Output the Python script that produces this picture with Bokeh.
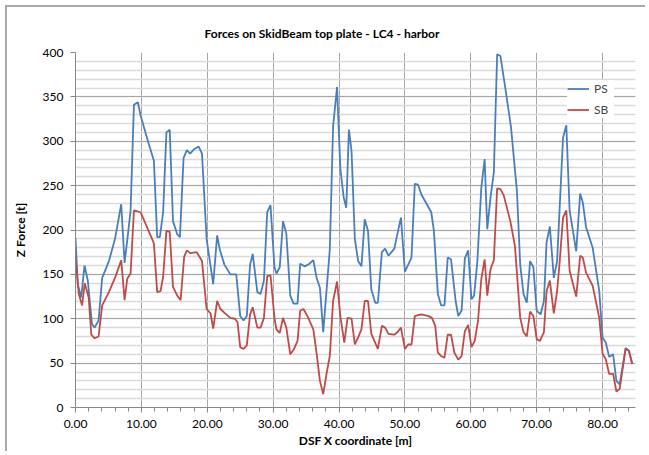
from bokeh.plotting import figure
from bokeh.models import (Range1d, SingleIntervalTicker, PrintfTickFormatter,
                          Legend, LegendItem)
from bokeh.embed import file_html
from bokeh.resources import INLINE

title_text = "Forces on SkidBeam top plate - LC4 - harbor"
x_label = "DSF X coordinate [m]"
y_label = "Z Force [t]"

ps_x = [0, 0.35, 0.86, 1.37, 1.87, 2.5, 2.9, 3.5, 4.05, 5.07, 6.0, 6.94, 7.45, 7.85, 8.36,
        8.87, 9.47, 9.88, 11.0, 11.9, 12.4, 12.8, 13.3, 13.8, 14.3, 14.8, 15.45, 15.85, 16.4,
        16.9, 17.4, 18.0, 18.7, 19.2, 19.9, 20.9, 21.5, 21.9, 22.6, 23.5, 24.4, 25.0, 25.5,
        26.0, 26.5, 26.9, 27.6, 28.1, 28.6, 29.1, 29.6, 30.2, 30.5, 31.0, 31.5, 32.0, 32.6,
        33.1, 33.7, 34.1, 34.8, 35.5, 36.1, 36.6, 37.1, 37.6, 38.6, 39.1, 39.7, 40.2, 40.7,
        41.1, 41.5, 41.9, 42.4, 42.9, 43.4, 43.9, 44.4, 44.9, 45.5, 45.9, 46.5, 47.0, 47.5,
        48.4, 48.9, 49.4, 50.0, 51.0, 51.5, 52.0, 52.5, 54.0, 54.4, 55.0, 55.5, 56.0, 56.5,
        57.0, 57.7, 58.1, 58.6, 59.1, 59.6, 60.1, 60.5, 61.0, 61.6, 62.1, 62.5, 63.0, 63.5,
        64.0, 64.5, 65.3, 66.1, 67.0, 67.5, 68.0, 68.5, 69.0, 69.5, 70.0, 70.6, 71.1, 71.5,
        72.0, 72.6, 73.1, 74.0, 74.5, 75.0, 76.0, 76.6, 77.0, 77.5, 78.5, 79.5, 80.0, 80.5,
        81.0, 81.6, 82.1, 82.6, 83.5, 84.0, 84.5]
ps_y = [191, 139, 124, 160, 143, 94, 90, 98, 146, 165, 190, 229, 163, 188, 222,
        341, 344, 329, 300, 278, 192, 192, 220, 310, 313, 210, 195, 192, 281,
        290, 286, 291, 294, 286, 190, 139, 194, 178, 161, 150, 150, 103, 98,
        103, 161, 173, 130, 128, 143, 220, 228, 158, 151, 158, 210, 196, 126,
        117, 117, 162, 159, 162, 166, 146, 135, 85, 178, 317, 361, 269, 237,
        225, 313, 289, 190, 165, 159, 212, 199, 133, 118, 118, 175, 179, 171,
        179, 197, 214, 153, 169, 252, 251, 240, 220, 199, 128, 115, 115, 169,
        167, 120, 103, 109, 168, 177, 122, 126, 165, 248, 280, 201, 237, 265,
        398, 396, 357, 316, 244, 161, 128, 118, 165, 158, 109, 105, 120, 186,
        204, 146, 165, 304, 318, 222, 176, 241, 231, 203, 180, 131, 79, 73,
        57, 60, 30, 26, 67, 64, 49]

sb_x = [0, 0.5, 1.0, 1.4, 2.0, 2.4, 2.9, 3.5, 4.05, 5.07, 6.1, 6.94, 7.45, 7.85, 8.36,
        8.87, 9.88, 11.1, 11.9, 12.4, 12.9, 13.3, 13.8, 14.3, 14.8, 15.45, 15.95, 16.5,
        16.9, 17.4, 18.4, 19.2, 19.9, 20.5, 20.9, 21.5, 22.0, 22.7, 23.5, 24.2, 24.6,
        25.0, 25.5, 26.0, 26.5, 26.9, 27.6, 28.1, 28.6, 29.1, 29.6, 30.2, 30.5, 31.0,
        31.5, 32.0, 32.6, 33.1, 33.7, 34.1, 34.6, 35.2, 36.1, 36.6, 37.1, 37.6, 38.1,
        38.6, 39.1, 39.7, 40.2, 40.8, 41.3, 41.9, 42.4, 42.9, 43.4, 43.9, 44.4, 44.9,
        45.9, 46.5, 47.0, 47.5, 48.4, 48.9, 49.4, 50.0, 50.5, 51.0, 51.5, 52.0, 52.5,
        53.6, 54.1, 54.6, 55.0, 55.5, 56.0, 56.5, 57.0, 57.5, 58.1, 58.6, 59.1, 59.6,
        60.1, 60.6, 61.1, 61.6, 62.1, 62.5, 63.0, 63.5, 64.0, 64.5, 65.0, 66.0, 66.7,
        67.5, 68.0, 68.5, 69.0, 69.5, 70.0, 70.5, 71.1, 71.5, 72.0, 72.6, 73.1, 73.5,
        74.0, 74.5, 75.0, 76.0, 76.6, 77.0, 77.5, 78.5, 79.5, 80.0, 80.5, 81.0, 81.6,
        82.1, 82.6, 83.5, 84.0, 84.5]
sb_y = [169, 128, 115, 140, 124, 82, 78, 80, 115, 130, 148, 166, 121, 145, 151,
        222, 220, 199, 185, 130, 131, 147, 199, 198, 136, 126, 121, 170,
        177, 174, 175, 165, 111, 106, 89, 120, 111, 106, 101, 100, 96,
        68, 66, 70, 105, 113, 90, 90, 101, 148, 149, 101, 88, 84,
        101, 90, 60, 65, 75, 109, 111, 103, 88, 61, 30, 15, 38,
        58, 120, 142, 103, 73, 101, 100, 71, 79, 88, 120, 120, 83,
        66, 92, 90, 83, 82, 85, 90, 66, 71, 71, 103, 104, 105,
        103, 101, 92, 62, 58, 56, 82, 82, 62, 54, 58, 86, 93,
        68, 75, 98, 145, 167, 126, 156, 166, 247, 246, 239, 210, 182,
        101, 85, 80, 108, 103, 77, 75, 85, 131, 143, 106, 131, 165,
        214, 222, 154, 125, 171, 169, 152, 137, 101, 61, 54, 38, 38,
        18, 21, 66, 64, 49]

FONT = "Lato"
GRID = "#a6a6a6"

p = figure(width=645, height=451, output_backend="svg", toolbar_location=None,
           x_range=Range1d(0, 85), y_range=Range1d(0, 400),
           min_border_left=75, min_border_right=10, min_border_top=52, min_border_bottom=44)
p.background_fill_color = "white"
p.border_fill_alpha = 0.0
p.outline_line_color = None
# chart-area frame: thin gray lines along the top and left edges (drawn as CSS background)
p.styles = {
    "background-color": "white",
    "background-image": "linear-gradient(#a8a8a8, #a8a8a8), linear-gradient(#a8a8a8, #a8a8a8)",
    "background-position": "5px 5px, 5px 5px",
    "background-size": "700px 2px, 2px 500px",
    "background-repeat": "no-repeat, no-repeat",
}

p.title.text = title_text
p.title.align = "left"
p.title.offset = 129
p.title.standoff = 24
p.title.text_font = FONT
p.title.text_font_size = "12px"
p.title.text_font_style = "bold"
p.title.text_color = "black"

ps_line = p.line(ps_x, ps_y, line_color="#4a7ebb", line_width=1.8)
sb_line = p.line(sb_x, sb_y, line_color="#be4b48", line_width=1.8)

p.xaxis.ticker = SingleIntervalTicker(interval=10, num_minor_ticks=5)
p.yaxis.ticker = SingleIntervalTicker(interval=50, num_minor_ticks=5)
p.xaxis.formatter = PrintfTickFormatter(format="%.2f")

for ax in (p.xaxis, p.yaxis):
    ax.axis_line_color = "#868686"
    ax.major_tick_line_color = "#868686"
    ax.minor_tick_line_color = "#868686"
    ax.major_tick_out = 5
    ax.major_tick_in = 0
    ax.minor_tick_out = 4
    ax.minor_tick_in = 0
    ax.major_label_text_font = FONT
    ax.major_label_text_font_size = "12px"
    ax.major_label_text_color = "black"
    ax.axis_label_text_font = FONT
    ax.axis_label_text_font_size = "12px"
    ax.axis_label_text_font_style = "bold"
    ax.axis_label_text_color = "black"
p.yaxis.minor_tick_line_color = None
p.xaxis.axis_label = x_label
p.yaxis.axis_label = y_label
p.xaxis.major_label_standoff = 7
p.yaxis.major_label_standoff = 7
p.xaxis.axis_label_standoff = 2
p.yaxis.axis_label_standoff = 12

p.xgrid.grid_line_color = GRID
p.ygrid.grid_line_color = GRID
p.ygrid.minor_grid_line_color = "#d9d9d9"
p.ygrid.minor_grid_line_width = 1.5

legend = Legend(items=[LegendItem(label="PS", renderers=[ps_line]),
                       LegendItem(label="SB", renderers=[sb_line])],
                location=(492, 289), background_fill_color="white",
                background_fill_alpha=1.0, border_line_color=None,
                label_text_font=FONT, label_text_font_size="12px",
                glyph_width=22, glyph_height=17, label_height=17,
                spacing=4, padding=4, margin=0)
p.add_layout(legend)

open("out.html", "w").write(file_html(p, INLINE))
